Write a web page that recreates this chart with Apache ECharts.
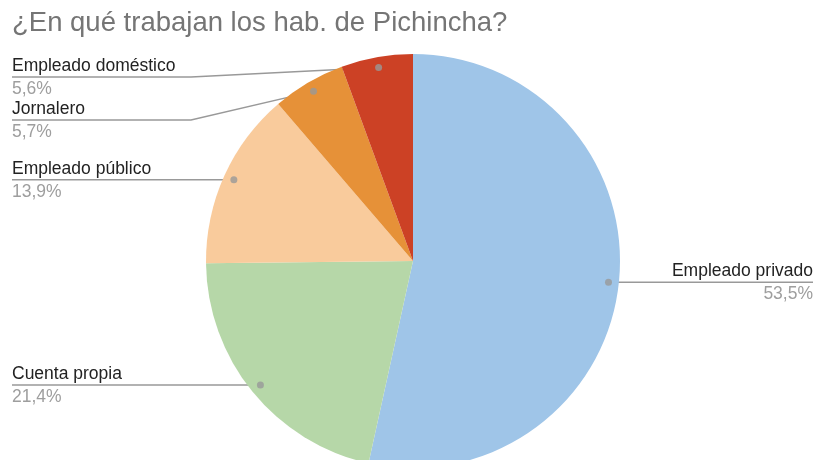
<!DOCTYPE html>
<html>
<head>
<meta charset="utf-8">
<script src="https://cdn.jsdelivr.net/npm/echarts@6/dist/echarts.min.js"></script>
<style>
  html, body { margin: 0; padding: 0; background: #fff; }
  #chart { width: 817px; height: 460px; }
</style>
</head>
<body>
<div id="chart"></div>
<script>
// datos del gráfico
const categories = ['Empleado privado', 'Cuenta propia', 'Empleado público', 'Jornalero', 'Empleado doméstico']
const values = [53.5, 21.4, 13.9, 5.7, 5.6]
const colors = ['#9fc5e8', '#b6d7a8', '#f9cb9c', '#e69138', '#cc4125']

const W = 817
const cx = 413, cy = 261, R = 207
const total = values.reduce((a, b) => a + b, 0)

// punto de anclaje de cada etiqueta (dentro de la porción)
let cum = 0
const anchors = values.map(v => {
  const mid = cum + v / 2
  cum += v
  const ang = mid / total * Math.PI * 2
  return {
    mid: mid,
    x: cx + 0.95 * R * Math.sin(ang),
    y: cy - 0.95 * R * Math.cos(ang),
    right: Math.sin(ang) >= 0
  }
})

// colocar etiquetas evitando solapes
const labelPos = []
const placeSide = (isRight) => {
  const idx = anchors.map((a, i) => i).filter(i => anchors[i].right === isRight)
  idx.sort((a, b) => anchors[a].y - anchors[b].y)
  let prev = -Infinity
  idx.forEach(i => {
    const y = Math.max(anchors[i].y, prev + 43, 77)
    labelPos[i] = y
    prev = y
  })
}
placeSide(true)
placeSide(false)

const chart = echarts.init(document.getElementById('chart'))

const option = {
  backgroundColor: '#fff',
  animation: false,
  title: {
    text: '¿En qué trabajan los hab. de Pichincha?',
    left: 12,
    top: 9,
    padding: 0,
    textStyle: {
      fontFamily: 'Liberation Sans, Arial, sans-serif',
      fontSize: 27.5,
      fontWeight: 'normal',
      color: '#757575'
    }
  },
  polar: { center: [cx, cy], radius: R },
  angleAxis: { type: 'value', min: 0, max: total, startAngle: 90, clockwise: true, show: false },
  radiusAxis: { type: 'value', min: 0, max: 1, show: false },
  series: [
    {
      type: 'pie',
      center: [cx, cy],
      radius: R,
      startAngle: 90,
      clockwise: true,
      avoidLabelOverlap: false,
      data: categories.map((c, i) => ({ name: c, value: values[i], itemStyle: { color: colors[i] } })),
      label: {
        show: true,
        position: 'outside',
        overflow: 'none',
        formatter: p => '{n|' + p.name + '}\n{v|' + String(p.value.toFixed(1)).replace('.', ',') + '%}',
        rich: {
          n: { fontFamily: 'Liberation Sans, Arial, sans-serif', fontSize: 17.5, color: '#222', lineHeight: 22 },
          v: { fontFamily: 'Liberation Sans, Arial, sans-serif', fontSize: 17.5, color: '#9e9e9e', lineHeight: 24 }
        }
      },
      labelLine: {
        show: true,
        lineStyle: { color: '#999', width: 1.5 }
      },
      labelLayout: params => {
        const i = params.dataIndex
        const a = anchors[i]
        const y = labelPos[i]
        const edgeX = a.right ? W - 4 : 12
        const elbowX = a.right ? cx + R + 15 : cx - R - 15
        return {
          x: edgeX,
          y: y + 1,
          align: a.right ? 'right' : 'left',
          verticalAlign: 'middle',
          labelLinePoints: [[a.x, a.y], [elbowX, y], [edgeX, y]]
        }
      },
      emphasis: { disabled: true }
    },
    {
      type: 'scatter',
      coordinateSystem: 'polar',
      symbolSize: 7,
      itemStyle: { color: '#999' },
      z: 5,
      silent: true,
      data: anchors.map(a => [0.95, a.mid])
    }
  ]
}

chart.setOption(option)
</script>
</body>
</html>
